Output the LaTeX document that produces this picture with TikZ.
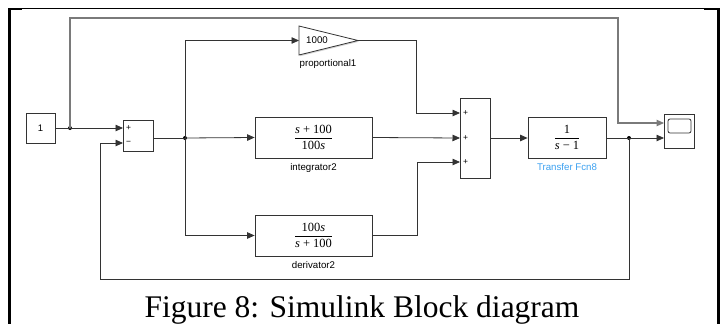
\documentclass[tikz,border=0pt]{standalone}
\usepackage{fontspec}
\setmainfont{Liberation Serif}
\newfontfamily\simsans{Liberation Sans}
\usetikzlibrary{arrows.meta,shadows,calc}
\definecolor{wire}{HTML}{333333}
\definecolor{wiregray}{HTML}{7A7A7A}
\definecolor{simblue}{HTML}{3BA0F0}
\newcommand{\simfrac}[2]{$\displaystyle\frac{\mbox{#1}}{\mbox{#2}}$}
\tikzset{
  blk/.style={draw=black!80,fill=white,line width=.8pt,inner sep=0pt,
    drop shadow={shadow xshift=1.2pt,shadow yshift=-1.2pt,opacity=.35},
    font=\fontsize{12.5}{15}\selectfont},
  sig/.style={wire,line width=.8pt,-{Triangle[length=7.5pt,width=6.5pt]}},
  lbl/.style={font=\simsans\fontsize{9.7}{11}\selectfont},
  sgn/.style={font=\simsans\fontsize{8.5}{9}\selectfont,inner sep=0pt},
  jdot/.style={circle,fill=black,inner sep=0pt,minimum size=4pt},
}

\begin{document}
\begin{tikzpicture}[x=1pt,y=-1pt]
\useasboundingbox (0,0) rectangle (727,324);
% frame of the page
\draw[line width=1.3pt] (8,8.5)--(718,8.5);
\draw[line width=3pt] (9,8)--(9,324) (718,8)--(718,324);
\draw[line width=2.5pt] (8,9)--(22,9) (704,9)--(718,9);

% blocks
\node[blk,minimum width=29pt,minimum height=30pt,font=\simsans\fontsize{9.5}{11}\selectfont] (const) at (40.5,128) {1};
\node[blk,minimum width=30pt,minimum height=31pt] (sumA) at (138,135.5) {};
\path[blk] (299,26)--(358,40.5)--(299,55)--cycle;
\coordinate (gIn) at (299,40.5); \coordinate (gTip) at (358,40.5);
\node[font=\simsans\fontsize{9.7}{11}\selectfont] (gainP) at (317,40.5) {1000};
\node[blk,minimum width=117pt,minimum height=41pt] (integ) at (313.5,137.5) {\simfrac{\textit{s} + 100}{100\textit{s}}};
\node[blk,minimum width=117pt,minimum height=41pt] (deriv) at (313.5,235.5) {\simfrac{100\textit{s}}{\textit{s} + 100}};
\node[blk,minimum width=30pt,minimum height=80pt] (sumB) at (475,138) {};
\node[blk,minimum width=78pt,minimum height=41pt] (tfcn) at (567,137.5) {\simfrac{1}{\textit{s} − 1}};
\node[blk,minimum width=30pt,minimum height=34pt] (scope) at (679,131) {};
\draw[black!80,line width=.8pt,rounded corners=2pt] (668,119) rectangle (691,133);

% labels
\node[lbl] (lP) at (328,64) {proportional1};
\node[lbl] (lI) at (313.5,168) {integrator2};
\node[lbl] (lD) at (313.5,265) {derivator2};
\node[lbl,text=simblue] (lT) at (567,167) {Transfer Fcn8};
\node[sgn] (pA1) at (128.5,128) {+};
\node[sgn] (pA2) at (128.5,143) {−};
\node[sgn] (pB1) at (465.5,113) {+};
\node[sgn] (pB2) at (465.5,138) {+};
\node[sgn] (pB3) at (465.5,162) {+};

% ports and branch points
\coordinate (sA1) at (123,128); \coordinate (sA2) at (123,143);
\coordinate (sB1) at (460,113); \coordinate (sB2) at (460,138); \coordinate (sB3) at (460,162);
\coordinate (sc1) at (664,123); \coordinate (sc2) at (664,138);
\node[jdot] (j1) at (70,128) {};
\node[jdot] (j2) at (185,138) {};
\node[jdot] (j3) at (629,138) {};

% signal lines
\draw[sig] (const.east)--(sA1);
\draw[sig,wiregray,line width=1.1pt] (j1.center)--++(0,-110)-|++(548,105)--(sc1);
\draw[wire,line width=.8pt] (sumA.east|-j2)--(j2.center);
\draw[sig] (j2.center)--(integ.west);
\draw[sig] (j2.center)|-(gIn);
\draw[sig] (j2.center)|-(deriv.west);
\draw[sig] (gTip)-|($(sB1)+(-44,0)$)--(sB1);
\draw[sig] (integ.east)--(sB2);
\draw[sig] (deriv.east)-|($(sB3)+(-43,0)$)--(sB3);
\draw[sig] (sumB.east|-sB2)--(tfcn.west|-sB2);
\draw[sig] (tfcn.east|-j3)--(sc2);
\draw[sig] (j3.center)--++(0,141)-|++(-529,-136)--(sA2);

\node[font=\fontsize{31.5}{36}\selectfont,anchor=base] (cap) at (362,317) {Figure 8: Simulink Block diagram};
\end{tikzpicture}
\end{document}
